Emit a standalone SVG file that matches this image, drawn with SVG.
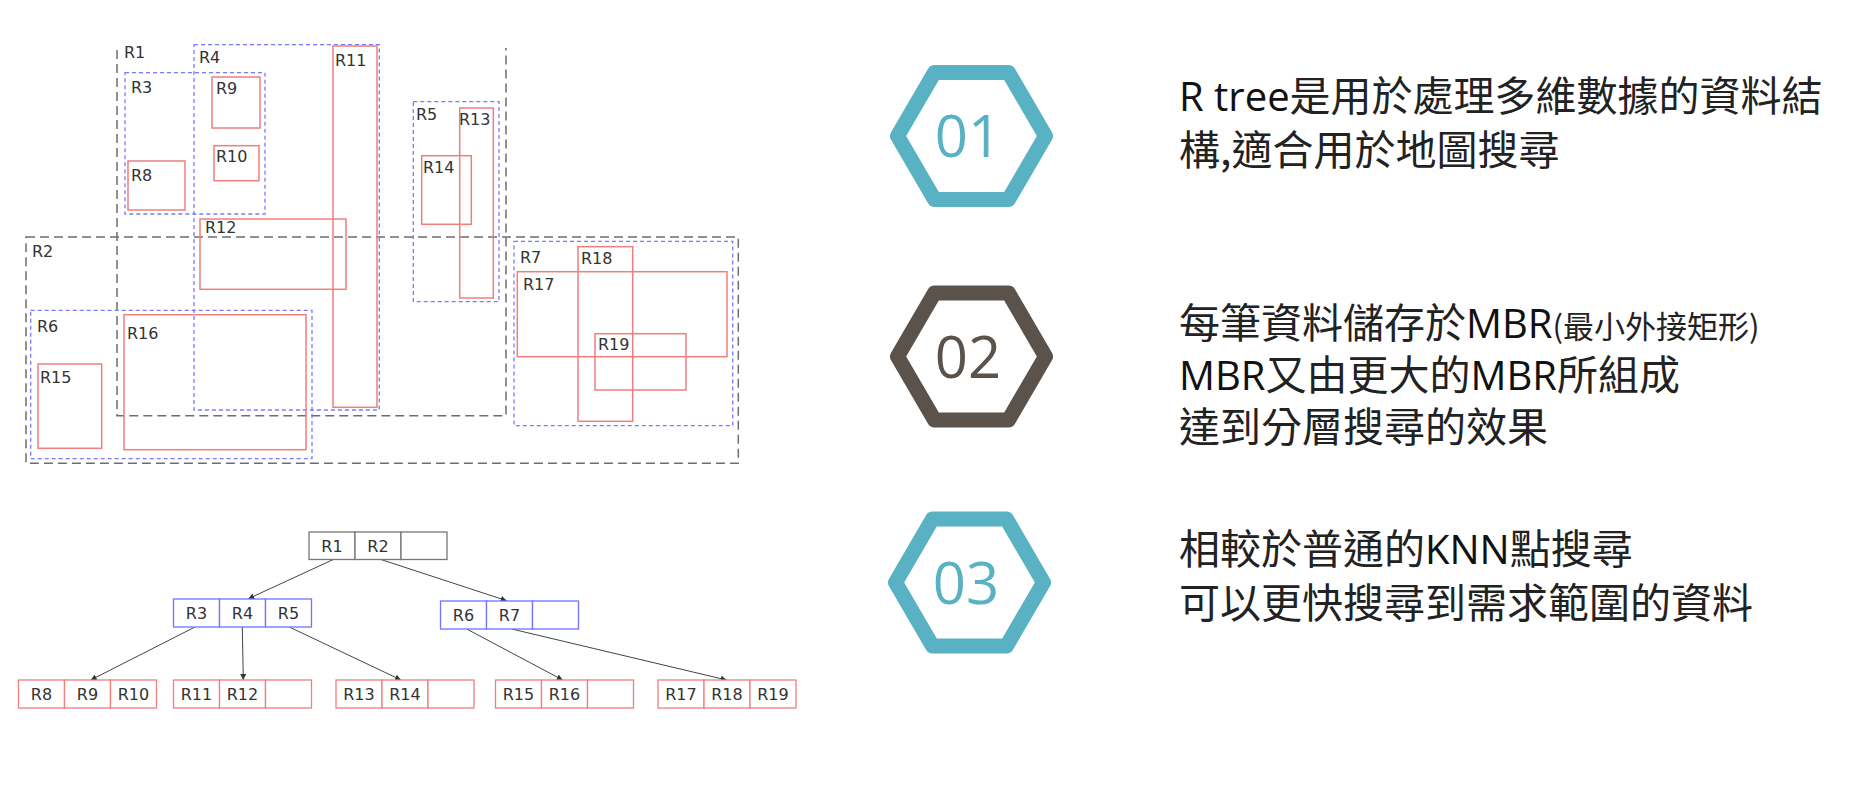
<svg xmlns="http://www.w3.org/2000/svg" width="1850" height="790" viewBox="0 0 1850 790">
<defs>
<style>
.bg{fill:#ffffff}
.outer{fill:none;stroke:#6e6e6e;stroke-width:1.5;stroke-dasharray:9 5}
.mid{fill:none;stroke:#7a7aff;stroke-width:1.3;stroke-dasharray:4 3}
.leaf{fill:none;stroke:#ef7f7f;stroke-width:1.5}
.lbl{font-family:"DejaVu Sans",sans-serif;font-size:16px;fill:#333333}
.tl{font-family:"DejaVu Sans",sans-serif;font-size:16px;fill:#333333;text-anchor:middle}
.nroot{fill:#ffffff;stroke:#777777;stroke-width:1.3}
.nmid{fill:#ffffff;stroke:#7272ff;stroke-width:1.3}
.nleaf{fill:#ffffff;stroke:#f07f7f;stroke-width:1.3}
.edge{fill:none;stroke:#444444;stroke-width:1;marker-end:url(#arr)}
.hexT{fill:none;stroke:#59b1c4;stroke-width:15;stroke-linejoin:round}
.hexB{fill:none;stroke:#5a524b;stroke-width:15;stroke-linejoin:round}
.num{font-family:"Open Sans","Liberation Sans",sans-serif;font-weight:400;font-size:58px;text-anchor:middle}
.desc{font-family:"Noto Sans CJK TC","Noto Sans CJK SC",sans-serif;font-weight:400;font-size:41px;fill:#222222}
.lat{font-family:"Open Sans","Noto Sans",sans-serif;font-weight:400;font-size:40px;fill:#111111}
.small{font-size:31px}
</style>
<marker id="arr" viewBox="0 0 10 10" refX="10" refY="5" markerWidth="6" markerHeight="6" orient="auto" markerUnits="userSpaceOnUse">
<path d="M0,0 L10,5 L0,10 z" fill="#333333"/>
</marker>
</defs>
<rect class="bg" x="0" y="0" width="1850" height="790"/>

<g id="mbr-diagram">
<g id="R1"><path class="outer" d="M117,50 V415.7 H506 V48"/><text class="lbl" x="124" y="58">R1</text></g>
<g id="R2"><rect class="outer" x="26" y="237" width="712.3" height="226.3"/><text class="lbl" x="32" y="257">R2</text></g>
<g id="R3"><rect class="mid" x="125" y="72.7" width="140" height="141.3"/><text class="lbl" x="131" y="93">R3</text></g>
<g id="R4"><rect class="mid" x="194" y="44.7" width="185.3" height="365.3"/><text class="lbl" x="199" y="63">R4</text></g>
<g id="R5"><rect class="mid" x="413.3" y="101.7" width="85.7" height="200"/><text class="lbl" x="416" y="120">R5</text></g>
<g id="R6"><rect class="mid" x="30.7" y="310.3" width="281.3" height="148.4"/><text class="lbl" x="37" y="332">R6</text></g>
<g id="R7"><rect class="mid" x="514" y="241.3" width="218.7" height="184.4"/><text class="lbl" x="520" y="263">R7</text></g>
<g id="R8"><rect class="leaf" x="128" y="161" width="57" height="49"/><text class="lbl" x="131" y="181">R8</text></g>
<g id="R9"><rect class="leaf" x="212" y="77" width="48" height="51"/><text class="lbl" x="216" y="94">R9</text></g>
<g id="R10"><rect class="leaf" x="214" y="145.7" width="45" height="35"/><text class="lbl" x="216" y="162">R10</text></g>
<g id="R11"><rect class="leaf" x="333" y="46" width="44" height="361.3"/><text class="lbl" x="335" y="66">R11</text></g>
<g id="R12"><rect class="leaf" x="200" y="219" width="146" height="70.3"/><text class="lbl" x="205" y="233">R12</text></g>
<g id="R13"><rect class="leaf" x="459.7" y="108" width="33.6" height="190"/><text class="lbl" x="459" y="125">R13</text></g>
<g id="R14"><rect class="leaf" x="421.7" y="155.7" width="49.6" height="68.6"/><text class="lbl" x="423" y="173">R14</text></g>
<g id="R15"><rect class="leaf" x="38" y="364" width="63.7" height="84.3"/><text class="lbl" x="40" y="383">R15</text></g>
<g id="R16"><rect class="leaf" x="124" y="314.7" width="182" height="135"/><text class="lbl" x="127" y="339">R16</text></g>
<g id="R17"><rect class="leaf" x="517.3" y="271.7" width="209.7" height="85"/><text class="lbl" x="523" y="290">R17</text></g>
<g id="R18"><rect class="leaf" x="578" y="246.7" width="54.7" height="174.6"/><text class="lbl" x="581" y="264">R18</text></g>
<g id="R19"><rect class="leaf" x="595" y="333.7" width="91" height="56.3"/><text class="lbl" x="598" y="350">R19</text></g>
</g>

<g id="tree-connectors">
<line class="edge" x1="333.3" y1="559.5" x2="248.3" y2="598.7"/>
<line class="edge" x1="381" y1="559.5" x2="506.7" y2="600.7"/>
<line class="edge" x1="195" y1="627" x2="90.7" y2="680"/>
<line class="edge" x1="242.3" y1="627" x2="243.3" y2="680"/>
<line class="edge" x1="289.3" y1="627" x2="401" y2="680"/>
<line class="edge" x1="466.7" y1="629" x2="562.7" y2="680"/>
<line class="edge" x1="511.7" y1="629" x2="726.7" y2="680"/>
</g>

<g id="node-root">
<rect class="nroot" x="309" y="532" width="46" height="27.5"/><rect class="nroot" x="355" y="532" width="46" height="27.5"/><rect class="nroot" x="401" y="532" width="46" height="27.5"/>
<text class="tl" x="332" y="552">R1</text><text class="tl" x="378" y="552">R2</text>
</g>
<g id="node-R3R4R5">
<rect class="nmid" x="173.5" y="599" width="46" height="28"/><rect class="nmid" x="219.5" y="599" width="46" height="28"/><rect class="nmid" x="265.5" y="599" width="46" height="28"/>
<text class="tl" x="196.5" y="619">R3</text><text class="tl" x="242.5" y="619">R4</text><text class="tl" x="288.5" y="619">R5</text>
</g>
<g id="node-R6R7">
<rect class="nmid" x="440.5" y="601" width="46" height="28"/><rect class="nmid" x="486.5" y="601" width="46" height="28"/><rect class="nmid" x="532.5" y="601" width="46" height="28"/>
<text class="tl" x="463.5" y="621">R6</text><text class="tl" x="509.5" y="621">R7</text>
</g>
<g id="node-R8R9R10">
<rect class="nleaf" x="18.5" y="680" width="46" height="28"/><rect class="nleaf" x="64.5" y="680" width="46" height="28"/><rect class="nleaf" x="110.5" y="680" width="46" height="28"/>
<text class="tl" x="41.5" y="700">R8</text><text class="tl" x="87.5" y="700">R9</text><text class="tl" x="133.5" y="700">R10</text>
</g>
<g id="node-R11R12">
<rect class="nleaf" x="173.5" y="680" width="46" height="28"/><rect class="nleaf" x="219.5" y="680" width="46" height="28"/><rect class="nleaf" x="265.5" y="680" width="46" height="28"/>
<text class="tl" x="196.5" y="700">R11</text><text class="tl" x="242.5" y="700">R12</text>
</g>
<g id="node-R13R14">
<rect class="nleaf" x="336" y="680" width="46" height="28"/><rect class="nleaf" x="382" y="680" width="46" height="28"/><rect class="nleaf" x="428" y="680" width="46" height="28"/>
<text class="tl" x="359" y="700">R13</text><text class="tl" x="405" y="700">R14</text>
</g>
<g id="node-R15R16">
<rect class="nleaf" x="495.5" y="680" width="46" height="28"/><rect class="nleaf" x="541.5" y="680" width="46" height="28"/><rect class="nleaf" x="587.5" y="680" width="46" height="28"/>
<text class="tl" x="518.5" y="700">R15</text><text class="tl" x="564.5" y="700">R16</text>
</g>
<g id="node-R17R18R19">
<rect class="nleaf" x="658" y="680" width="46" height="28"/><rect class="nleaf" x="704" y="680" width="46" height="28"/><rect class="nleaf" x="750" y="680" width="46" height="28"/>
<text class="tl" x="681" y="700">R17</text><text class="tl" x="727" y="700">R18</text><text class="tl" x="773" y="700">R19</text>
</g>

<g id="item-01">
<polygon class="hexT" points="934.5,72.5 1008.5,72.5 1045.5,136 1008.5,199.5 934.5,199.5 897.5,136"/>
<text class="num" x="968" y="157" fill="#59b1c4">01</text>
<text class="desc" x="1179" y="111"><tspan class="lat">R tree</tspan>是用於處理多維數據的資料結</text>
<text class="desc" x="1179" y="165">構,適合用於地圖搜尋</text>
</g>
<g id="item-02">
<polygon class="hexB" points="934.5,293 1008.5,293 1045.5,356.5 1008.5,420 934.5,420 897.5,356.5"/>
<text class="num" x="968" y="377.5" fill="#5a524b">02</text>
<text class="desc" x="1179" y="338">每筆資料儲存於<tspan class="lat">MBR</tspan><tspan class="small">(最小外接矩形)</tspan></text>
<text class="desc" x="1179" y="390"><tspan class="lat">MBR</tspan>又由更大的<tspan class="lat">MBR</tspan>所組成</text>
<text class="desc" x="1179" y="442">達到分層搜尋的效果</text>
</g>
<g id="item-03">
<polygon class="hexT" points="932.5,519 1006.5,519 1043.5,582.5 1006.5,646 932.5,646 895.5,582.5"/>
<text class="num" x="966" y="603.5" fill="#59b1c4">03</text>
<text class="desc" x="1179" y="564">相較於普通的<tspan class="lat">KNN</tspan>點搜尋</text>
<text class="desc" x="1179" y="618">可以更快搜尋到需求範圍的資料</text>
</g>
</svg>
